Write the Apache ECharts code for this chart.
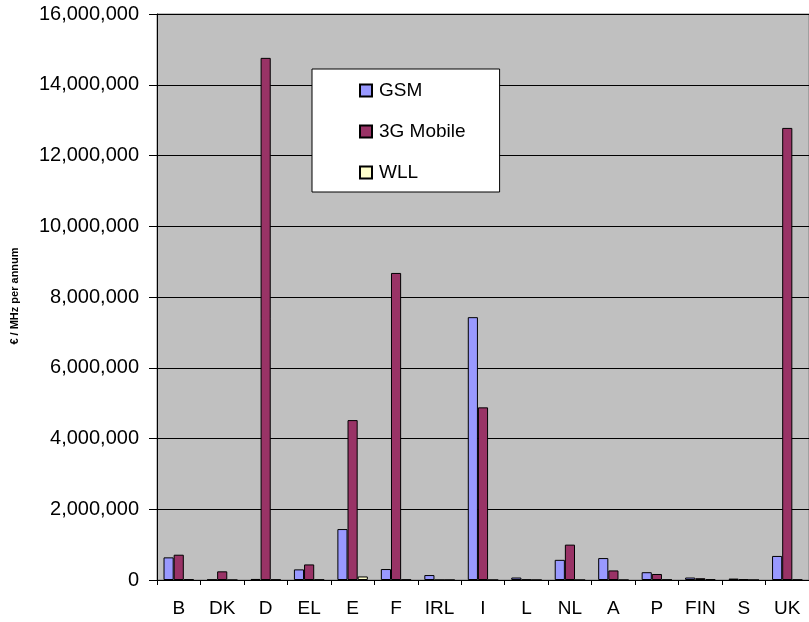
<!DOCTYPE html>
<html>
<head>
<meta charset="utf-8">
<script src="https://cdn.jsdelivr.net/npm/echarts@6/dist/echarts.min.js"></script>
<style>
  html, body { margin: 0; padding: 0; background: #ffffff; }
  #chart { width: 809px; height: 622px; }
</style>
</head>
<body>
<div id="chart"></div>
<script>
// Spectrum fees per country, € per MHz per annum
const countries = ['B', 'DK', 'D', 'EL', 'E', 'F', 'IRL', 'I', 'L', 'NL', 'A', 'P', 'FIN', 'S', 'UK'];
const gsm      = [640000, 10000, 30000, 300000, 1440000, 310000, 140000, 7430000, 70000, 570000, 620000, 220000, 70000, 40000, 680000];
const mobile3g = [715000, 245000, 14760000, 440000, 4520000, 8680000, 0, 4880000, 10000, 1000000, 270000, 170000, 50000, 20000, 12780000];
const wll      = [20000, 0, 10000, 10000, 100000, 10000, 0, 0, 0, 0, 0, 10000, 20000, 0, 10000];
const yTicks   = [0, 2000000, 4000000, 6000000, 8000000, 10000000, 12000000, 14000000, 16000000];
const yTitle   = '€ / MHz per annum';

const FONT = '"Liberation Sans", Arial, sans-serif';
const chart = echarts.init(document.getElementById('chart'), null, { renderer: 'canvas' });

const barStyle = (color) => ({ color: color, borderColor: '#000000', borderWidth: 1 });

chart.setOption({
  animation: false,
  backgroundColor: '#ffffff',
  grid: {
    left: 157, top: 14, width: 655, height: 566,
    show: true, backgroundColor: '#c0c0c0', borderColor: '#808080', borderWidth: 1
  },
  graphic: [{
    type: 'text',
    x: 15, y: 296,
    rotation: Math.PI / 2,
    style: {
      text: yTitle,
      font: 'bold 11px ' + FONT,
      fill: '#000000',
      align: 'center',
      verticalAlign: 'middle'
    }
  }],
  legend: {
    orient: 'vertical',
    left: 312, top: 69,
    padding: [12, 34, 10, 47],
    itemGap: 22,
    itemWidth: 12, itemHeight: 12,
    icon: 'rect',
    backgroundColor: '#ffffff',
    borderColor: '#000000', borderWidth: 1,
    textStyle: { fontFamily: FONT, fontSize: 19, color: '#000000', lineHeight: 19, padding: [0, 0, 0, 2] },
    data: ['GSM', '3G Mobile', 'WLL']
  },
  xAxis: {
    type: 'category',
    data: countries,
    axisLine: { lineStyle: { color: '#000000', width: 1 } },
    axisTick: { show: true, length: 5, lineStyle: { color: '#000000' } },
    axisLabel: { fontFamily: FONT, fontSize: 19, color: '#000000', margin: 19 },
    splitLine: { show: false }
  },
  yAxis: {
    type: 'value',
    min: yTicks[0], max: yTicks[yTicks.length - 1], interval: yTicks[1] - yTicks[0],
    axisLine: { show: true, lineStyle: { color: '#000000', width: 1 } },
    axisTick: { show: true, length: 8, lineStyle: { color: '#000000' } },
    axisLabel: {
      fontFamily: FONT, fontSize: 20, color: '#000000', margin: 18,
      formatter: (v) => v.toLocaleString('en-US')
    },
    splitLine: { show: true, lineStyle: { color: '#000000', width: 1 } }
  },
  series: [
    { name: 'GSM', type: 'bar', data: gsm, barGap: '0%', barCategoryGap: '30%', itemStyle: barStyle('#9999ff') },
    { name: '3G Mobile', type: 'bar', data: mobile3g, itemStyle: barStyle('#993366') },
    { name: 'WLL', type: 'bar', data: wll, itemStyle: barStyle('#ffffcc') }
  ]
});
</script>
</body>
</html>
